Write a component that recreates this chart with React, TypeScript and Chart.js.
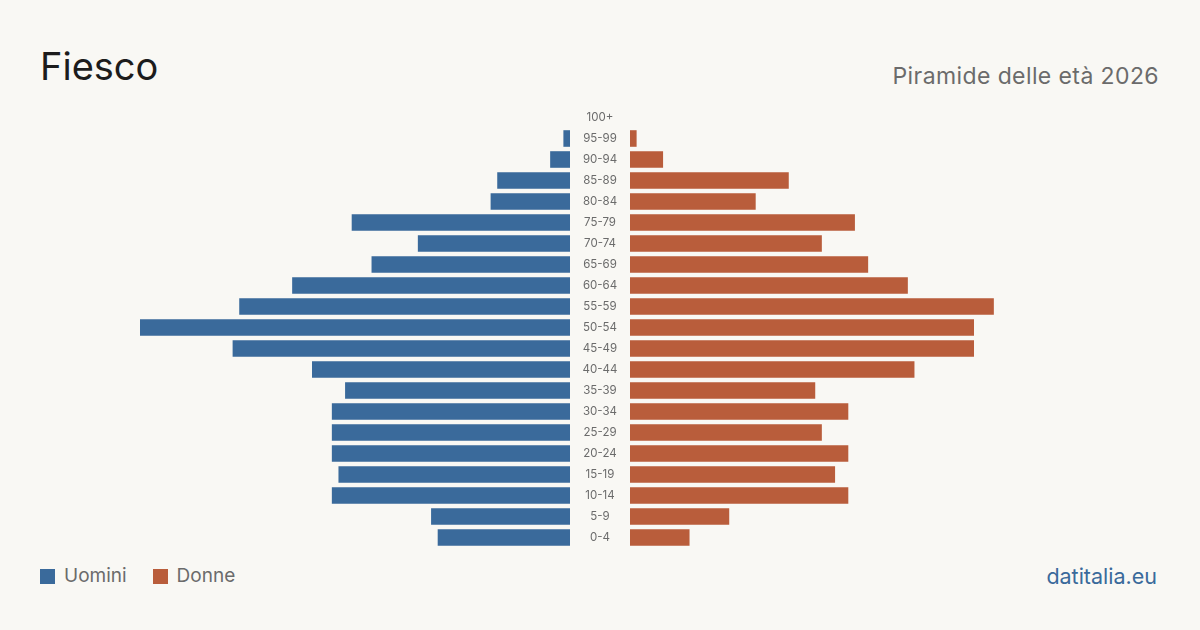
import React, { useEffect, useRef } from "react";
import { Chart, registerables } from "chart.js";

Chart.register(...registerables);

// Age classes, youngest first
const ageClasses = [
  "0-4", "5-9", "10-14", "15-19", "20-24", "25-29", "30-34", "35-39", "40-44",
  "45-49", "50-54", "55-59", "60-64", "65-69", "70-74", "75-79", "80-84",
  "85-89", "90-94", "95-99", "100+",
];

// Residents by age class
const men = [20, 21, 36, 35, 36, 36, 36, 34, 39, 51, 65, 50, 42, 30, 23, 33, 12, 11, 3, 1, 0];
const women = [9, 15, 33, 31, 33, 29, 33, 28, 43, 52, 52, 55, 42, 36, 29, 34, 19, 24, 5, 1, 0];

const BG = "#f9f8f4";
const BLUE = "#3a6a9b";
const ORANGE = "#b95d3b";
const FONT = "Inter, 'Noto Sans', sans-serif";

const maxValue = Math.max(...men, ...women);

// Draws the age-class labels centred in the gap between the two halves
const centreLabels = {
  id: "centreLabels",
  afterDraw(chart: any) {
    const ys = chart.scales.y;
    const ctx = chart.ctx;
    ctx.save();
    ctx.font = `11.5px ${FONT}`;
    ctx.fillStyle = "#6b6b6b";
    ctx.textAlign = "center";
    ctx.textBaseline = "middle";
    const cx = (ys.left + ys.right) / 2;
    ageClasses.forEach((lab, i) => {
      ctx.fillText(lab, cx, ys.getPixelForValue(i));
    });
    ctx.restore();
  },
};

function Half({ side }: { side: "left" | "right" }) {
  const ref = useRef<HTMLCanvasElement>(null);
  useEffect(() => {
    if (!ref.current) return;
    const isLeft = side === "left";
    const chart = new Chart(ref.current, {
      type: "bar",
      data: {
        labels: ageClasses,
        datasets: [
          {
            label: isLeft ? "Uomini" : "Donne",
            data: isLeft ? men : women,
            backgroundColor: isLeft ? BLUE : ORANGE,
            borderWidth: 0,
            barPercentage: 0.79,
            categoryPercentage: 1,
          },
        ],
      },
      options: {
        indexAxis: "y",
        animation: false,
        responsive: true,
        maintainAspectRatio: false,
        layout: { padding: 0 },
        plugins: { legend: { display: false }, tooltip: { enabled: false } },
        scales: {
          x: { display: false, min: 0, max: maxValue, reverse: isLeft },
          y: isLeft
            ? {
                position: "right",
                reverse: true,
                grid: { display: false },
                border: { display: false },
                ticks: { display: false },
                afterFit: (s: any) => {
                  s.width = 60;
                },
              }
            : { display: false, reverse: true },
        },
      },
      plugins: isLeft ? [centreLabels] : [],
    } as any);
    return () => chart.destroy();
  }, [side]);
  return <canvas ref={ref} />;
}

export default function App() {
  return (
    <div
      style={{
        position: "fixed",
        left: 0,
        top: 0,
        width: 1200,
        height: 630,
        background: BG,
        fontFamily: FONT,
        overflow: "hidden",
      }}
    >
      <div
        style={{
          position: "absolute",
          left: 40,
          top: 43,
          fontSize: 38,
          lineHeight: "46px",
          color: "#1c1c1c",
        }}
      >
        Fiesco
      </div>
      <div
        style={{
          position: "absolute",
          right: 41,
          top: 62,
          fontSize: 23,
          lineHeight: "28px",
          letterSpacing: 0.4,
          color: "#6b6b6b",
        }}
      >
        Piramide delle età 2026
      </div>

      <div style={{ position: "absolute", left: 140, top: 106.5, width: 490, height: 441 }}>
        <Half side="left" />
      </div>
      <div style={{ position: "absolute", left: 630, top: 106.5, width: 430, height: 441 }}>
        <Half side="right" />
      </div>

      <div
        style={{
          position: "absolute",
          left: 40,
          top: 564,
          display: "flex",
          alignItems: "center",
          fontSize: 19,
          lineHeight: "24px",
          color: "#6b6b6b",
        }}
      >
        <span style={{ width: 15, height: 15, background: BLUE, display: "inline-block", marginRight: 9 }} />
        <span style={{ marginRight: 26 }}>Uomini</span>
        <span style={{ width: 15, height: 15, background: ORANGE, display: "inline-block", marginRight: 9 }} />
        <span>Donne</span>
      </div>
      <div
        style={{
          position: "absolute",
          right: 43,
          top: 563,
          fontSize: 21.5,
          lineHeight: "26px",
          color: BLUE,
        }}
      >
        datitalia.eu
      </div>
    </div>
  );
}
